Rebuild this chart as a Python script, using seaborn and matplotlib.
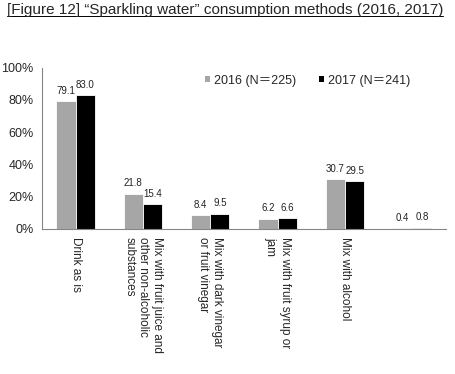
import numpy as np
import pandas as pd
import seaborn as sns
import matplotlib.pyplot as plt
from matplotlib.patches import Patch
from matplotlib.lines import Line2D

# Data
categories = ["Drink as is",
              "Mix with fruit juice and\nother non-alcoholic\nsubstances",
              "Mix with dark vinegar\nor fruit vinegar",
              "Mix with fruit syrup or\njam",
              "Mix with alcohol",
              ""]
years = ["2016 (N＝225)", "2017 (N＝241)"]
values_2016 = [79.1, 21.8, 8.4, 6.2, 30.7, 0.4]
values_2017 = [83.0, 15.4, 9.5, 6.6, 29.5, 0.8]
colors = ["#A6A6A6", "#000000"]

df = pd.DataFrame({
    "method": categories * 2,
    "year": [years[0]] * len(categories) + [years[1]] * len(categories),
    "value": values_2016 + values_2017,
})

sns.set_style("white")
plt.rcParams["font.family"] = ["Liberation Sans", "Noto Sans CJK JP", "DejaVu Sans"]

fig = plt.figure(figsize=(4.56, 3.74), dpi=100)
ax = fig.add_axes([0.092, 0.388, 0.886, 0.431])

sns.barplot(data=df, x="method", y="value", hue="year", palette=colors,
            width=0.57, edgecolor="white", linewidth=0.6, ax=ax, legend=False)

# value labels
for cont, vals in zip(ax.containers, [values_2016, values_2017]):
    for bar, v in zip(cont, vals):
        ax.annotate(f"{v:.1f}", (bar.get_x() + bar.get_width() / 2, bar.get_height()),
                    xytext=(0, 4), textcoords="offset points",
                    ha="center", va="bottom", fontsize=7, color="#222222")

ax.set_ylim(0, 100)
ax.set_xlim(-0.5, len(categories) - 0.5)
ax.set_yticks(np.arange(0, 101, 20))
ax.set_yticklabels([f"{t}%" for t in range(0, 101, 20)], fontsize=9)
ax.set_xticks(range(len(categories)))
ax.set_xticklabels(categories, rotation=270, ha="center", va="top",
                   multialignment="left", fontsize=8.5)
ax.set_xticks(np.arange(-0.5, len(categories), 1), minor=True)
ax.tick_params(axis="x", which="major", length=0, pad=6)
ax.tick_params(axis="x", which="minor", length=4, color="#868686", direction="out")
ax.tick_params(axis="y", length=4, color="#868686", direction="out", pad=2)
ax.set_xlabel("")
ax.set_ylabel("")
for s in ["top", "right"]:
    ax.spines[s].set_visible(False)
for s in ["left", "bottom"]:
    ax.spines[s].set_color("#868686")
    ax.spines[s].set_linewidth(0.8)

handles = [Patch(facecolor=c, edgecolor="none") for c in colors]
ax.legend(handles, years, loc="center left", bbox_to_anchor=(0.375, 0.92),
          ncol=2, frameon=False, fontsize=9, handlelength=0.45, handleheight=0.45,
          handletextpad=0.3, columnspacing=1.8)

title = fig.text(0.015, 0.973,
                 "[Figure 12] \u201cSparkling water\u201d consumption methods (2016, 2017)",
                 fontsize=11, ha="left", va="center")
fig.canvas.draw()
bb = title.get_window_extent().transformed(fig.transFigure.inverted())
fig.add_artist(Line2D([bb.x0, bb.x1], [bb.y0 + 0.002, bb.y0 + 0.002],
                      color="black", linewidth=0.7, transform=fig.transFigure))

fig.savefig("out.png", dpi=100)
